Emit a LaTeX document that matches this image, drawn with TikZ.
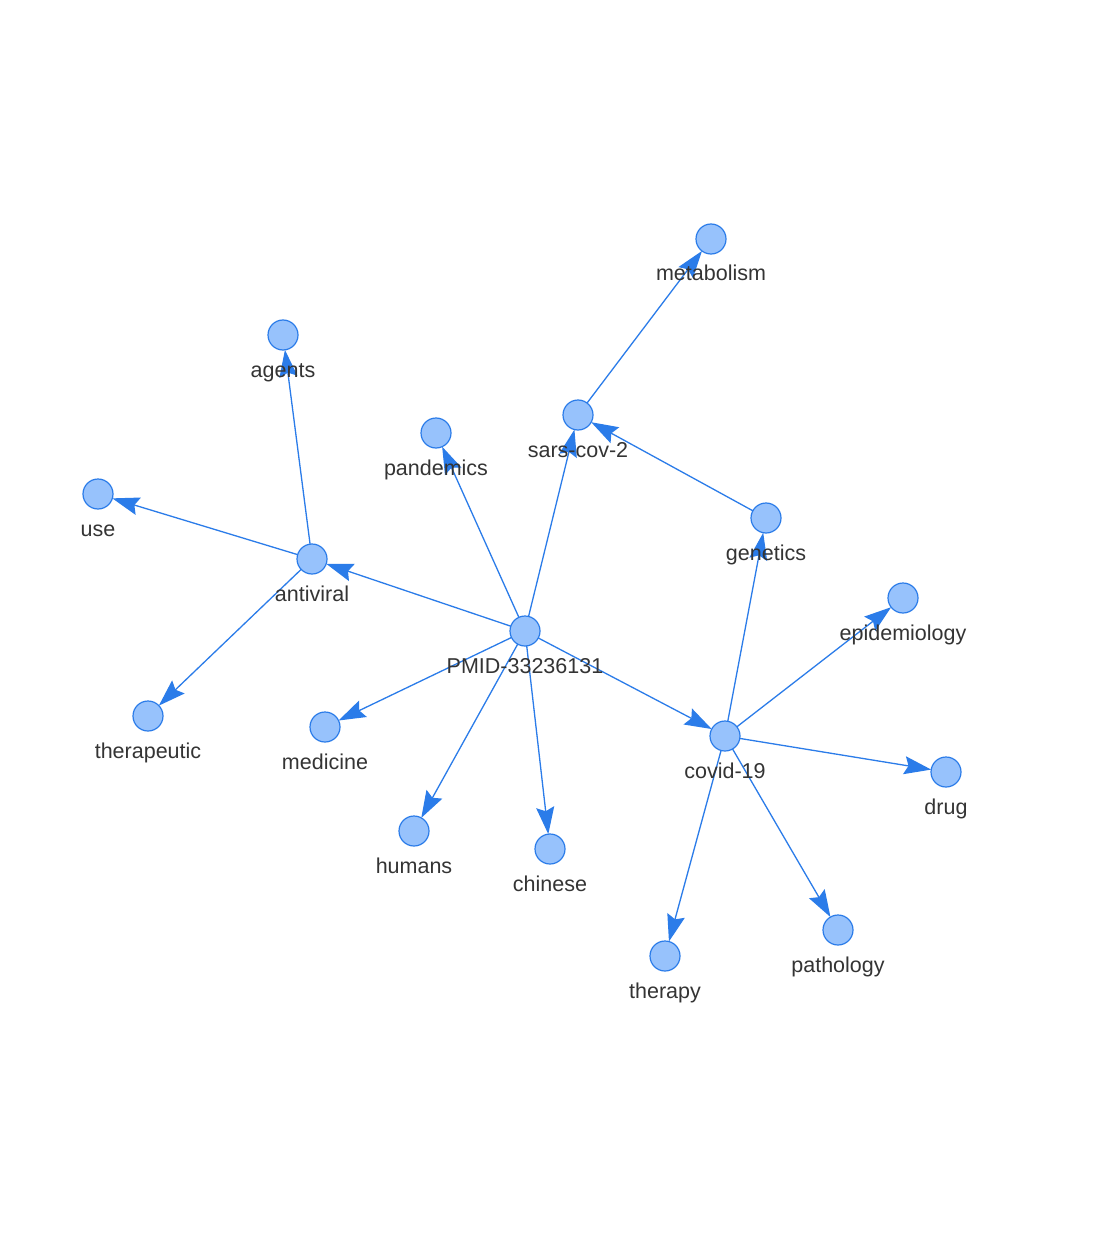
\documentclass[tikz,border=0pt]{standalone}
\usepackage{fontspec}
\setmainfont{Liberation Sans}
\usetikzlibrary{arrows.meta}
\definecolor{nodefill}{HTML}{97C2FC}
\definecolor{nodeline}{HTML}{2B7CE9}
\definecolor{txt}{HTML}{343434}
\pgfdeclarelayer{bg}
\pgfdeclarelayer{edges}
\pgfsetlayers{bg,edges,main}
\begin{document}
\begin{tikzpicture}[x=1pt,y=-1pt,
  vnode/.style={circle,draw=nodeline,fill=nodefill,line width=1.2pt,minimum size=30pt,inner sep=0pt,outer sep=0pt,
    label={[anchor=base,label distance=27pt,text=txt,font=\fontsize{21.5}{25}\selectfont]below:#1}},
  link/.style={draw=nodeline,line width=1.3pt,-{Stealth[length=27pt,width=18pt,inset=4pt]}}]
\begin{pgfonlayer}{bg}
\fill[white] (0,0) rectangle (1100,1238);
\end{pgfonlayer}
\useasboundingbox (0,0) rectangle (1100,1238);
\node[vnode=PMID-33236131] (pmid) at (525,631) {};
\node[vnode=antiviral] (antiviral) at (312,559) {};
\node[vnode=agents] (agents) at (283,335) {};
\node[vnode=use] (use) at (98,494) {};
\node[vnode=therapeutic] (therapeutic) at (148,716) {};
\node[vnode=pandemics] (pandemics) at (436,433) {};
\node[vnode=sars-cov-2] (sars) at (578,415) {};
\node[vnode=metabolism] (metabolism) at (711,239) {};
\node[vnode=genetics] (genetics) at (766,518) {};
\node[vnode=epidemiology] (epidemiology) at (903,598) {};
\node[vnode=covid-19] (covid) at (725,736) {};
\node[vnode=drug] (drug) at (946,772) {};
\node[vnode=pathology] (pathology) at (838,930) {};
\node[vnode=therapy] (therapy) at (665,956) {};
\node[vnode=medicine] (medicine) at (325,727) {};
\node[vnode=humans] (humans) at (414,831) {};
\node[vnode=chinese] (chinese) at (550,849) {};
\begin{pgfonlayer}{edges}
\draw[link] (pmid) -- (antiviral);
\draw[link] (pmid) -- (pandemics);
\draw[link] (pmid) -- (sars);
\draw[link] (pmid) -- (medicine);
\draw[link] (pmid) -- (humans);
\draw[link] (pmid) -- (chinese);
\draw[link] (pmid) -- (covid);
\draw[link] (antiviral) -- (agents);
\draw[link] (antiviral) -- (use);
\draw[link] (antiviral) -- (therapeutic);
\draw[link] (sars) -- (metabolism);
\draw[link] (genetics) -- (sars);
\draw[link] (covid) -- (genetics);
\draw[link] (covid) -- (epidemiology);
\draw[link] (covid) -- (drug);
\draw[link] (covid) -- (pathology);
\draw[link] (covid) -- (therapy);
\end{pgfonlayer}
\end{tikzpicture}
\end{document}
